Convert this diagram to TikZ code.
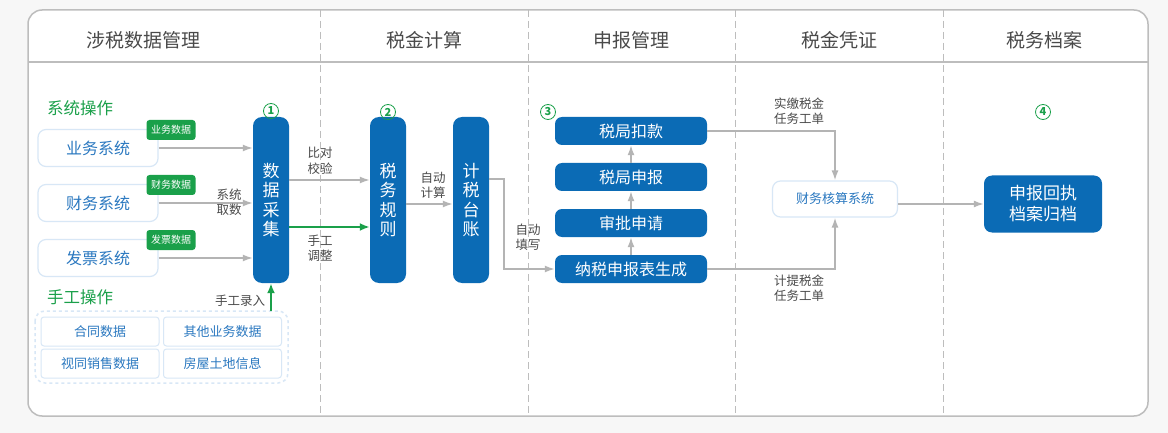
\documentclass[tikz,border=0pt]{standalone}
\usepackage{fontspec}
\setmainfont{Noto Sans CJK SC}
\usetikzlibrary{arrows.meta}
\definecolor{taxblue}{HTML}{0B6BB5}
\definecolor{taxgreen}{HTML}{1AA04A}
\definecolor{linegray}{HTML}{B4B4B4}
\definecolor{framegray}{HTML}{BDBDBD}
\definecolor{lightedge}{HTML}{D8E7F6}
\definecolor{softblue}{HTML}{2A78C0}
\definecolor{txtgray}{HTML}{4A4A4A}
\begin{document}
\begin{tikzpicture}[x=1pt,y=-1pt,>={Latex[length=10pt,width=7pt]},
  head/.style={text=txtgray,font=\fontsize{19}{22}\selectfont},
  lane/.style={draw=framegray,dash pattern=on 7pt off 4pt,line width=1pt},
  sysbox/.style={draw=lightedge,line width=1.2pt,fill=white,rounded corners=8pt,
    minimum width=120pt,minimum height=37pt,text=softblue,font=\fontsize{16}{19}\selectfont},
  tag/.style={fill=taxgreen,rounded corners=3pt,minimum width=49pt,minimum height=20pt,
    inner sep=0pt,text=white,font=\fontsize{10}{12}\selectfont},
  bar/.style={fill=taxblue,rounded corners=9pt,minimum width=36pt,minimum height=166pt,
    text=white,align=center,font=\fontsize{17}{19.3}\selectfont},
  stepbox/.style={fill=taxblue,rounded corners=7pt,minimum width=152pt,minimum height=28pt,
    text=white,font=\fontsize{16}{19}\selectfont},
  mbox/.style={draw=lightedge,line width=1pt,fill=white,rounded corners=3pt,
    minimum width=118pt,minimum height=29pt,text=softblue,font=\fontsize{13}{15}\selectfont},
  note/.style={text=txtgray,align=center,font=\fontsize{12.5}{15.5}\selectfont},
  greenhead/.style={text=taxgreen,font=\fontsize{16.5}{19}\selectfont},
  num/.style={circle,draw=taxgreen,text=taxgreen,line width=0.8pt,inner sep=0pt,
    minimum size=15pt,font=\bfseries\fontsize{11}{11}\selectfont},
  flow/.style={draw=linegray,line width=1.6pt,->},
  manual/.style={draw=taxgreen,line width=2.5pt,-{Latex[length=10pt,width=8pt]}}]
\useasboundingbox[fill=black!3] (0,0) rectangle (1168,433);
% frame and lanes
\draw[framegray,line width=1.5pt,rounded corners=14pt,fill=white] (28,10) rectangle (1148,416);
\draw[framegray,line width=1.2pt] (28,62) -- (1148,62);
\foreach \x in {320,528,735,943}
  \draw[lane] (\x,10) -- (\x,416);
\foreach \x/\t in {143/涉税数据管理,424/税金计算,631/申报管理,839/税金凭证,1044/税务档案}
  \node[head] at (\x,40) {\t};
% data collection
\node[greenhead] (xtcz) at (80,108) {系统操作};
\node[sysbox] (ywxt) at (98,148) {业务系统};
\node[sysbox] (cwxt) at (98,203) {财务系统};
\node[sysbox] (fpxt) at (98,258) {发票系统};
\node[tag] (ywsj) at (171,130) {业务数据};
\node[tag] (cwsj) at (171,185) {财务数据};
\node[tag] (fpsj) at (171,240) {发票数据};
\node[bar] (sjcj) at (271,200) {数\\据\\采\\集};
\node[num] (n1) at (271,111) {1};
\draw[flow] (ywxt.east) -- (ywxt.east -| sjcj.west);
\draw[flow] (cwxt.east) -- (cwxt.east -| sjcj.west);
\draw[flow] (fpxt.east) -- (fpxt.east -| sjcj.west);
\node[note] (xtqs) at (229,202) {系统\\取数};
\node[greenhead] (sgcz) at (80,297) {手工操作};
\draw[lightedge,dashed,line width=1.5pt,rounded corners=10pt] (35,311) rectangle (288,383);
\node[mbox] (htsj) at (100,331.5) {合同数据};
\node[mbox] (qtsj) at (222.5,331.5) {其他业务数据};
\node[mbox] (stxs) at (100,363.5) {视同销售数据};
\node[mbox] (fwtd) at (222.5,363.5) {房屋土地信息};
\coordinate (mtop) at (271,311);
\draw[manual] (mtop) -- (sjcj.south);
\node[note] (sglr) at (240,301) {手工录入};
% tax calculation
\node[bar] (swgz) at (388,200) {税\\务\\规\\则};
\node[num] (n2) at (388,112) {2};
\draw[flow] (sjcj.east |- 0,180) -- (swgz.west |- 0,180);
\draw[manual] (sjcj.east |- 0,227) -- (swgz.west |- 0,227);
\node[note] (bdjy) at (320,161) {比对\\校验};
\node[note] (sgtz) at (320,248) {手工\\调整};
\node[bar] (jstz) at (471,200) {计\\税\\台\\账};
\draw[flow] (swgz.east |- 0,204) -- (jstz.west |- 0,204);
\node[note] (zdjs) at (433,185) {自动\\计算};
% declaration
\node[num] (n3) at (548,112) {3};
\node[stepbox] (sjkk) at (631,131) {税局扣款};
\node[stepbox] (sjsb) at (631,177) {税局申报};
\node[stepbox] (spsq) at (631,223) {审批申请};
\node[stepbox] (nssb) at (631,269) {纳税申报表生成};
\draw[flow] (nssb) -- (spsq);
\draw[flow] (spsq) -- (sjsb);
\draw[flow] (sjsb) -- (sjkk);
\coordinate (turn) at (504,179);
\draw[flow] (jstz.east |- turn) -- (turn) |- (nssb.west);
\node[note] (zdtx) at (528,237) {自动\\填写};
% voucher
\node[draw=lightedge,line width=1.2pt,fill=white,rounded corners=8pt,minimum width=125pt,
  minimum height=36pt,text=softblue,font=\fontsize{13}{15}\selectfont] (cwhs) at (835,199) {财务核算系统};
\draw[flow] (sjkk.east) -| (cwhs.north);
\draw[flow] (nssb.east) -| (cwhs.south);
\node[note,align=left] (sjrw) at (799,111) {实缴税金\\任务工单};
\node[note,align=left] (jtrw) at (799,288) {计提税金\\任务工单};
% archive
\node[num] (n4) at (1043,112) {4};
\node[fill=taxblue,rounded corners=8pt,minimum width=118pt,minimum height=57pt,text=white,
  align=center,font=\fontsize{17}{21}\selectfont] (sbhz) at (1043,204) {申报回执\\档案归档};
\draw[flow] (cwhs.east |- sbhz) -- (sbhz.west);
\end{tikzpicture}
\end{document}
